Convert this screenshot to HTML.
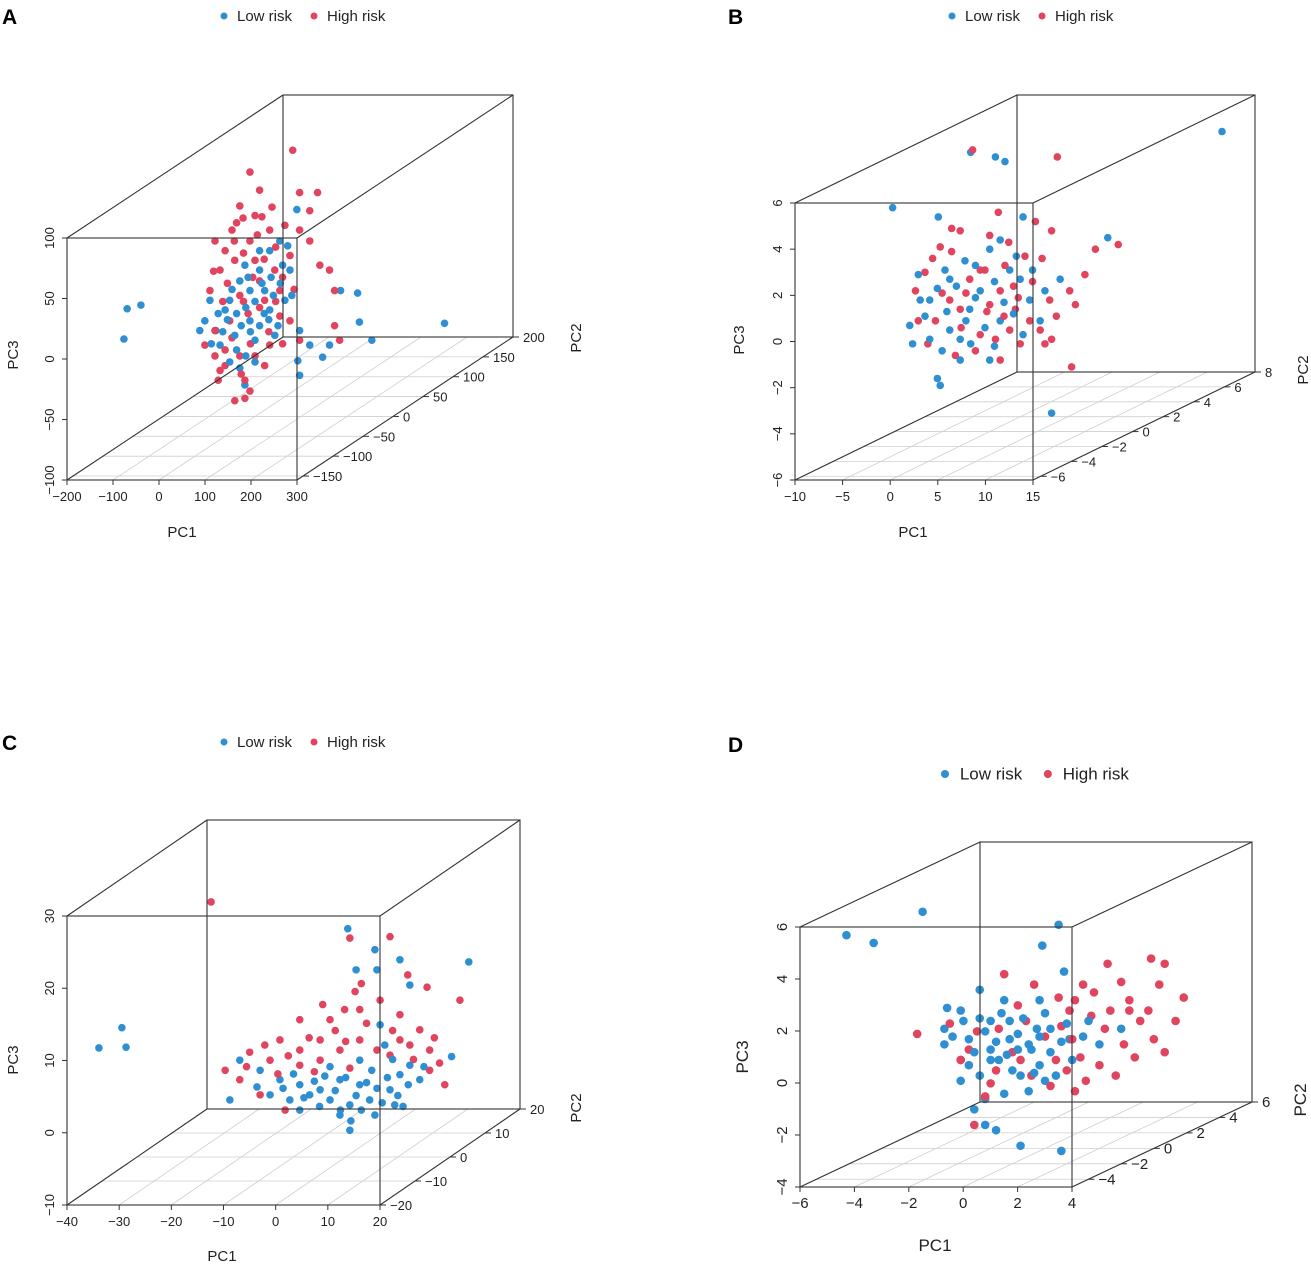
<!DOCTYPE html>
<html><head><meta charset="utf-8">
<style>
html,body{margin:0;padding:0;background:#fff;}
svg{display:block;font-family:"Liberation Sans",Arial,sans-serif;}
</style></head>
<body>
<svg id="fig" width="1311" height="1266" viewBox="0 0 1311 1266"></svg>
<script>
// ---- data (PC1, PC3 pairs; PC2 = 0) ----
const aLow = [[-278,-11],[-248,-8],[-285,-36],[412,-23],[227,-22],[223,2],[186,4],[91,71],[97,-29],[119,-41],[162,-41],[254,-37],[147,-51],[97,-66],[-22,-74],[-33,-60],[-85,-29],[-109,-21],[-55,-4],[-11,4],[10,21],[32,37],[54,45],[10,37],[-33,12],[-65,-12],[-11,-21],[32,-12],[65,-4],[76,21],[-98,-4],[-120,-29],[-76,-41],[-44,-33],[0,-37],[43,-33],[21,4],[-22,25],[71,41],[93,-54],
 [-60,-20],[-40,-15],[-20,-10],[0,-5],[20,-15],[40,0],[55,10],[-50,5],[-30,-25],[-10,-30],[10,-25],[30,-20],[50,-25],[-80,-15],[-70,-30],[-40,-45],[-20,-50],[0,-55],[-55,-55],[15,10],[35,15],[-15,15],[60,25],[80,0],[-95,-40]];
const aHigh = [[82,120],[-11,102],[10,87],[-33,74],[0,66],[-26,64],[97,85],[136,85],[119,70],[37,73],[65,58],[-50,54],[-87,45],[-65,37],[-11,45],[32,54],[97,54],[119,45],[141,25],[162,21],[173,4],[76,33],[-44,29],[-76,21],[-98,4],[-33,0],[21,-4],[54,-17],[-55,-21],[-87,-50],[-109,-41],[-65,-58],[-33,-50],[0,-50],[32,-41],[173,-25],[184,-37],[97,-37],[21,-58],[-22,-70],[-44,-87],[-22,-85],[-11,-79],[-76,-62],[10,12],[43,21],[54,4],[0,29],[-87,-29],[76,-21],
 [-60,10],[-45,45],[-25,35],[5,50],[20,30],[45,40],[60,15],[-70,-5],[-50,-35],[-25,-5],[-5,15],[10,-10],[30,-30],[45,-5],[-90,20],[-40,60],[15,65],[-65,-45],[-10,-40],[60,-40],[-30,-65],[-80,-70],[85,5],[-15,-15]];
const bLow = [[24.4,7.0],[-10.2,3.7],[-5.4,3.3],[-2.0,6.1],[0.6,5.9],[1.6,5.7],[3.5,3.3],[12.4,2.4],[6.5,-5.2],[-5.2,-4.0],[-5.5,-3.7],[-8.1,-2.2],[-8.4,-1.4],[-6.3,-0.3],[-4.2,0.6],[-2.6,1.4],[0.0,1.9],[1.1,2.3],[2.1,1.0],[4.2,-0.3],[5.3,-1.2],[-4.2,-1.6],[-2.1,-0.7],[-1.0,0.1],[-3.1,-2.0],[1.1,-1.2],[3.2,0.6],[7.4,0.6],[0.0,-2.9],[-3.1,-2.9],[-6.3,-2.0],[-4.7,1.0],[5.8,0.1],[-7.3,-0.3],
 [-5.5,0.2],[-4.5,-0.8],[-3.5,0.3],[-2.5,-1.2],[-1.5,-0.2],[-0.5,-1.5],[0.5,0.5],[1.5,-0.4],[2.5,-0.9],[3.5,-1.8],[-6.8,-1.0],[-5.0,-2.5],[-2.0,-2.2],[0.5,-2.3],[2.8,1.6],[-1.5,1.2],[4.5,1.0],[-7.5,0.8]];
const bHigh = [[-1.8,6.2],[7.1,5.9],[0.9,3.5],[4.8,3.1],[6.5,2.7],[-3.1,2.7],[-5.2,2.0],[-6.8,0.9],[-7.8,0.1],[-7.5,-1.2],[-5.7,-1.2],[-4.2,-0.3],[-2.1,0.6],[-0.5,1.0],[1.1,0.1],[2.7,-0.7],[4.2,-1.2],[6.3,-0.3],[8.4,0.1],[10.0,0.8],[11.1,1.9],[13.5,2.1],[9.0,-0.5],[5.8,-2.2],[3.2,-2.2],[0.6,-2.0],[-1.5,-2.5],[-3.6,-2.7],[1.1,-2.9],[5.3,-1.6],[8.6,-3.2],[-1.0,1.0],[1.6,1.2],[3.7,1.6],[-3.1,-0.7],[0.0,-0.5],[2.1,-1.6],
 [-6.0,1.5],[-4.0,1.8],[-3.0,-1.5],[-1.0,-1.8],[0.0,2.5],[2.0,2.2],[3.0,-0.2],[4.5,0.5],[5.5,1.5],[7.0,-1.0],[-2.5,0.0],[-0.3,-0.8],[1.5,-1.0],[-5.0,0.0],[6.5,-2.0],[-6.5,-2.2],[2.5,0.3],[-4.0,2.8]];
const cLow = [[-47.3,5.1],[-42.9,7.9],[-42.1,5.2],[0.4,21.6],[5.6,18.7],[6.0,15.9],[2.0,15.9],[10.4,17.3],[12.3,13.8],[23.6,17.0],[20.3,3.9],[6.6,8.3],[7.5,5.5],[2.7,3.4],[-1.1,0.7],[-4.9,-0.7],[-8.8,0.0],[-12.6,0.7],[-14.5,-1.4],[-10.7,-2.1],[-6.9,-1.4],[-3.0,-2.1],[0.8,-2.8],[4.6,-2.1],[8.5,-0.7],[10.4,1.4],[14.2,0.7],[2.7,0.0],[-1.1,-4.2],[0.8,-6.3],[-8.8,-3.5],[-16.4,2.0],[-20.3,3.4],[-22.2,-2.1],[5.6,-4.2],[9.4,-2.8],[12.3,2.7],
 [-12,-0.5],[-10,1.5],[-8,-1.8],[-6,0.5],[-4,1.2],[-2,-0.8],[0,1.0],[2,-1.5],[4,0.3],[6,-0.5],[8,1.0],[10,-1.5],[12,0.0],[-5,-3.0],[-1,-3.5],[3,-3.5],[7,-2.5],[11,-3.0],[-17,-0.3],[-3,2.5],[5,2.0],[9,3.5],[15,2.5],[1,-5.0]];
const cHigh = [[-25.8,25.3],[0.8,20.3],[8.5,20.5],[11.9,15.2],[15.6,13.5],[21.9,11.7],[-4.4,11.1],[-0.2,10.4],[-8.8,9.0],[-12.6,6.2],[-15.5,5.5],[-18.4,4.5],[-23.1,2.0],[-20.3,0.7],[-14.5,3.4],[-8.8,4.8],[-4.9,6.2],[-3.0,9.0],[2.7,10.4],[10.4,9.7],[14.2,7.6],[16.1,4.8],[19.0,0.0],[16.1,2.0],[-8.8,2.7],[-4.9,3.4],[-1.1,4.8],[2.7,6.2],[8.5,4.1],[12.3,5.5],[1.8,12.9],[6.6,11.7],[-16.4,-1.4],[-11.6,-3.5],[0.8,2.3],[10.4,6.2],
 [-11,4.0],[-7,6.5],[-2,7.5],[4,8.5],[6,4.8],[13,3.5],[17,6.5],[-13,1.5],[-6,1.8],[0,6.0],[9,7.5],[18,3.0],[-19,2.5],[3,14.0]];
const dHigh = [[-4.7,0.4],[-1.5,2.7],[-0.4,2.3],[1.4,2.3],[2.3,3.1],[3.9,3.3],[4.4,3.1],[4.2,2.3],[5.1,1.8],[3.1,1.7],[2.4,1.3],[1.7,1.1],[0.9,1.3],[0.6,0.7],[3.5,0.9],[2.9,0.0],[4.0,0.2],[4.4,-0.3],[2.0,-0.8],[1.5,-1.4],[1.1,-1.8],[0.2,-1.6],[-0.9,-0.6],[-1.8,-1.0],[-2.8,-0.2],[-3.1,-0.6],[3.1,1.3],[1.1,1.7],[-1.7,0.6],[-0.7,0.9],[0.4,-0.6],[-2.6,-3.1],[-2.2,-2.0],
 [-2.5,0.5],[-1.2,-0.3],[0.0,0.3],[1.0,0.2],[2.2,0.6],[3.3,-0.5],[1.8,2.0],[0.5,1.8],[-0.5,-1.2],[2.6,-1.2],[3.8,1.3],[-3.5,0.8],[-1.0,1.5],[1.3,-0.5],[2.8,2.4],[-2.0,-1.5],[0.8,-1.0],[4.8,0.9]];
const dLow = [[-7.3,4.2],[-6.3,3.9],[-4.5,5.1],[0.5,4.6],[-0.1,3.8],[0.7,2.8],[-2.4,2.1],[-1.5,1.7],[-3.1,1.3],[-3.7,0.0],[-3.7,0.6],[-3.1,-0.6],[-2.0,-0.2],[-1.3,0.2],[-0.5,-0.2],[0.2,0.6],[0.9,0.2],[2.0,0.0],[2.8,0.6],[-1.7,-0.6],[-2.4,-1.2],[-0.9,-1.2],[-0.2,-0.8],[-2.2,-2.1],[-1.5,-1.9],[-0.6,-1.8],[-2.6,-2.5],[-2.2,-3.1],[-1.8,-3.3],[-0.9,-3.9],[0.6,-4.1],[-2.0,-0.6],[-2.8,0.2],[-1.3,0.9],[-0.2,1.7],[-3.1,-1.4],[0.0,-1.4],
 [-3.4,0.3],[-3.0,0.9],[-2.6,-0.3],[-2.2,0.5],[-1.8,0.1],[-1.4,-0.4],[-1.0,0.4],[-0.6,0.0],[-0.2,0.3],[0.2,-0.3],[0.6,0.1],[1.0,-0.6],[1.4,0.3],[-2.4,1.0],[-1.6,1.2],[-0.8,1.0],[0.0,1.2],[-2.8,-0.8],[-1.2,-1.0],[-0.4,-1.1],[0.4,-1.2],[-2.0,0.9],[-1.0,-0.2],[0.8,0.8],[-3.6,1.4],[-0.3,0.6],[1.6,0.9]];
const aTicks1=[-200,-100,0,100,200,300], aTicks2=[-150,-100,-50,0,50,100,150,200], aTicks3=[-100,-50,0,50,100];
const bTicks1=[-10,-5,0,5,10,15], bTicks2=[-6,-4,-2,0,2,4,6,8], bTicks3=[-6,-4,-2,0,2,4,6];
const cTicks1=[-40,-30,-20,-10,0,10,20], cTicks2=[-20,-10,0,10,20], cTicks3=[-10,0,10,20,30];
const dTicks1=[-6,-4,-2,0,2,4], dTicks2=[-4,-2,0,2,4,6], dTicks3=[-4,-2,0,2,4,6];

const NS="http://www.w3.org/2000/svg";
const svg=document.getElementById('fig');
const BLUE="#2f8fd3", RED="#e0445e";
function mk(tag,attrs,parent){const e=document.createElementNS(NS,tag);for(const k in attrs)e.setAttribute(k,attrs[k]);(parent||svg).appendChild(e);return e;}

const panels=[
 {id:'a',letter:'A',lx:2,ly:24,fx:67,fy:238,fw:230,fh:242,dx:216,dy:-143,r1:[-200,300],r2:[-160,200],r3:[-100,100],t1:aTicks1,t2:aTicks2,t3:aTicks3,low:aLow,high:aHigh,leg:[224,16],fs:14,pc1:[182,537],pc3:[18,355],pc2:[581,338],rad:3.8},
 {id:'b',letter:'B',lx:728,ly:24,fx:795,fy:203,fw:238,fh:277,dx:222,dy:-108,r1:[-10,15],r2:[-6.5,8],r3:[-6,6],t1:bTicks1,t2:bTicks2,t3:bTicks3,low:bLow,high:bHigh,leg:[952,16],fs:14,pc1:[913,537],pc3:[744,340],pc2:[1308,370],rad:3.8},
 {id:'c',letter:'C',lx:2,ly:750,fx:67,fy:916,fw:313,fh:289,dx:140,dy:-96,r1:[-40,20],r2:[-20,20],r3:[-10,30],t1:cTicks1,t2:cTicks2,t3:cTicks3,low:cLow,high:cHigh,leg:[224,742],fs:14,pc1:[222,1261],pc3:[18,1060],pc2:[581,1108],rad:3.8},
 {id:'d',letter:'D',lx:728,ly:752,fx:800,fy:927,fw:272,fh:260,dx:180,dy:-85,r1:[-6,4],r2:[-5,6],r3:[-4,6],t1:dTicks1,t2:dTicks2,t3:dTicks3,low:dLow,high:dHigh,leg:[945,774],fs:16,pc1:[935,1251],pc3:[748,1057],pc2:[1306,1100],rad:4.3}
];

panels.forEach(p=>{
  const g=mk('g',{});
  
  
  const sx=v=>(v-p.r1[0])/(p.r1[1]-p.r1[0])*p.fw;
  const sd=v=>(v-p.r2[0])/(p.r2[1]-p.r2[0]);
  const sz=v=>(v-p.r3[0])/(p.r3[1]-p.r3[0])*p.fh;
  const proj=(a,b,c)=>[p.fx+sx(a)+sd(b)*p.dx, p.fy+p.fh-sz(c)+sd(b)*p.dy];
  const L=p.fx,R=p.fx+p.fw,T=p.fy,B=p.fy+p.fh;
  const grid=mk('g',{stroke:'#cfcfcf','stroke-width':0.8},g);
  
  
  p.t1.forEach(t=>{const a=proj(t,p.r2[0],p.r3[0]),b=proj(t,p.r2[1],p.r3[0]);mk('line',{x1:a[0],y1:a[1],x2:b[0],y2:b[1]},grid);});
  p.t2.forEach(t=>{if(t<p.r2[0]||t>p.r2[1])return;const a=proj(p.r1[0],t,p.r3[0]),b=proj(p.r1[1],t,p.r3[0]);mk('line',{x1:a[0],y1:a[1],x2:b[0],y2:b[1]},grid);});
  const box=mk('g',{stroke:'#333','stroke-width':1.1,fill:'none'},g);
  
  
  mk('rect',{x:L+p.dx,y:T+p.dy,width:p.fw,height:p.fh},box);
  [[L,T],[R,T],[L,B],[R,B]].forEach(c=>mk('line',{x1:c[0],y1:c[1],x2:c[0]+p.dx,y2:c[1]+p.dy},box));
  const pts=mk('g',{},g);
  
  
  const drawSet=(arr,col,nm)=>arr.forEach(v=>{const q=proj(v[0],0,v[1]);const c=mk('circle',{cx:q[0],cy:q[1],r:p.rad,fill:col},pts);
    
    });
  const h=Math.ceil(p.low.length/2);
  drawSet(p.low.slice(0,h),BLUE,'low-risk-point');
  drawSet(p.high,RED,'high-risk-point');
  drawSet(p.low.slice(h),BLUE,'low-risk-point');
  mk('rect',{x:L,y:T,width:p.fw,height:p.fh},box);
  g.appendChild(box);
  const ax=mk('g',{fill:'#222','font-size':p.fs-1},g);
  
  
  p.t1.forEach(t=>{const x=L+sx(t);mk('line',{x1:x,y1:B,x2:x,y2:B+5,stroke:'#333'},ax);
    const tx=mk('text',{x:x,y:B+21,'text-anchor':'middle'},ax);tx.textContent=String(t).replace('-','\u2212');});
  p.t3.forEach(t=>{const y=B-sz(t);mk('line',{x1:L-5,y1:y,x2:L,y2:y,stroke:'#333'},ax);
    const tx=mk('text',{x:0,y:0,'text-anchor':'middle',transform:`translate(${L-13},${y}) rotate(-90)`},ax);tx.textContent=String(t).replace('-','\u2212');});
  p.t2.forEach(t=>{const k=sd(t);const x=R+k*p.dx,y=B+k*p.dy;mk('line',{x1:x,y1:y,x2:x+6,y2:y,stroke:'#333'},ax);
    const tx=mk('text',{x:x+10,y:y+5,'text-anchor':'start'},ax);tx.textContent=String(t).replace('-','\u2212');});
  const t1=mk('text',{x:p.pc1[0],y:p.pc1[1],'text-anchor':'middle','font-size':p.fs+1,fill:'#222'},g);t1.textContent='PC1';
  
  const t3=mk('text',{x:0,y:0,'text-anchor':'middle','font-size':p.fs+1,fill:'#222',transform:`translate(${p.pc3[0]},${p.pc3[1]}) rotate(-90)`},g);t3.textContent='PC3';
  
  const t2=mk('text',{x:0,y:0,'text-anchor':'middle','font-size':p.fs+1,fill:'#222',transform:`translate(${p.pc2[0]},${p.pc2[1]}) rotate(-90)`},g);t2.textContent='PC2';
  
  const lt=mk('text',{x:p.lx,y:p.ly,'font-size':21,'font-weight':'bold',fill:'#000'},g);lt.textContent=p.letter;
  
  const lg=mk('g',{'font-size':p.fs+1,fill:'#222'},g);
  
  const [gx,gy]=p.leg, sc=p.fs/14;
  mk('circle',{cx:gx,cy:gy,r:3.5*sc,fill:BLUE},lg);
  const l1=mk('text',{x:gx+13*sc,y:gy+5*sc},lg);l1.textContent='Low risk';
  
  mk('circle',{cx:gx+90*sc,cy:gy,r:3.5*sc,fill:RED},lg);
  const l2=mk('text',{x:gx+103*sc,y:gy+5*sc},lg);l2.textContent='High risk';
  
});
</script>
</body></html>
